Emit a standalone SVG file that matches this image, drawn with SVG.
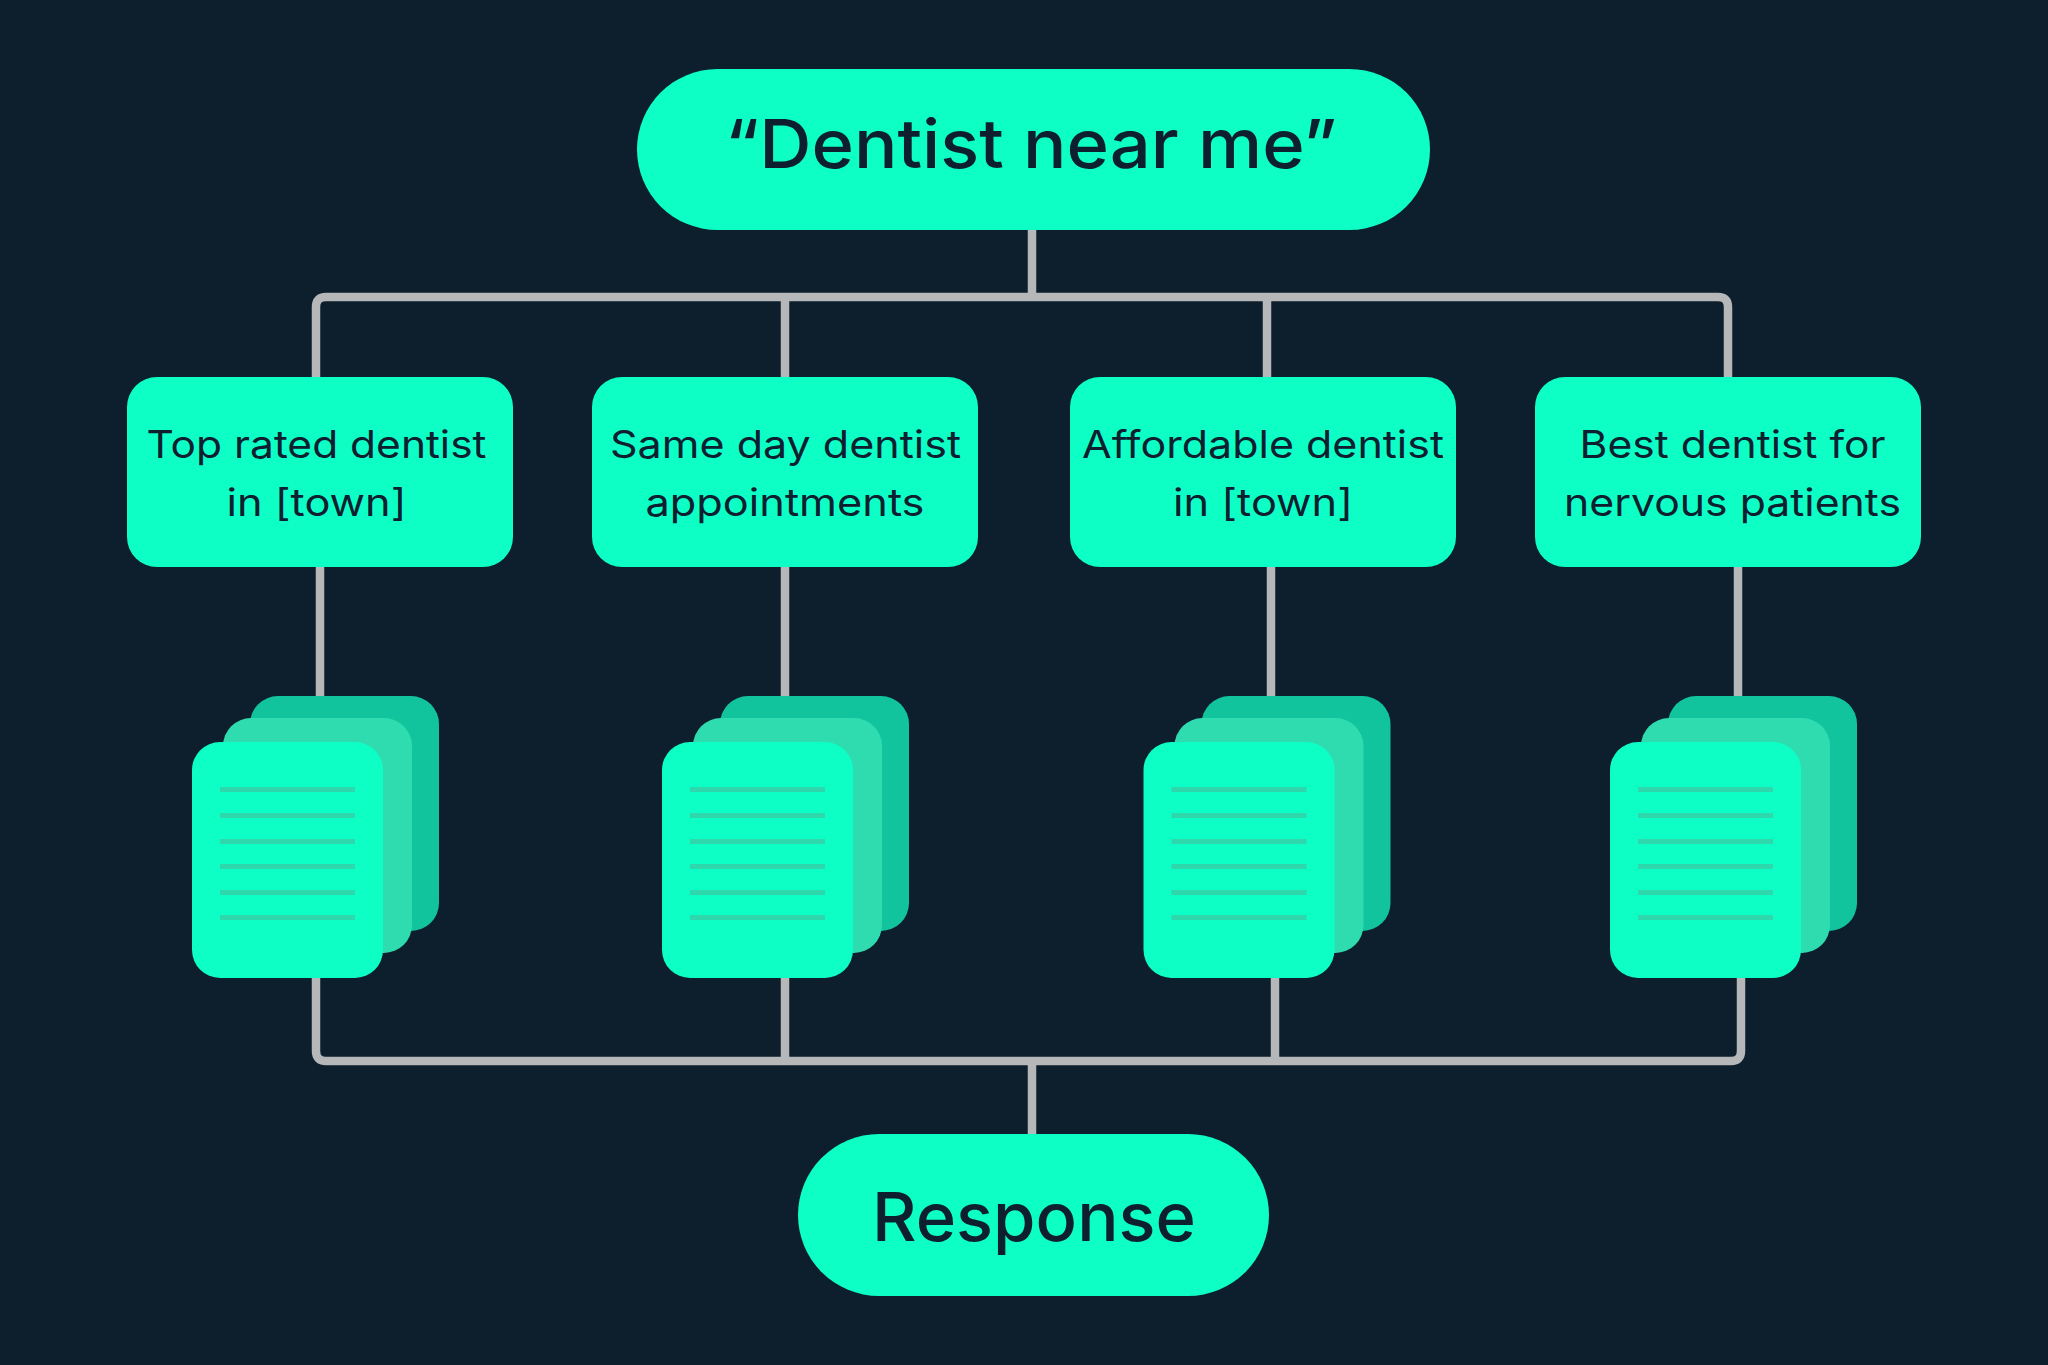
<svg xmlns="http://www.w3.org/2000/svg" width="2048" height="1365" viewBox="0 0 2048 1365">
<style>
.n{fill:#0dffc6}
.b{fill:#12c49e}
.m{fill:#2fdcb0}
.l{fill:#2fd8ac}
.c{fill:none;stroke:#b5b7b9;stroke-width:8.5}
text{font-family:"Inter","Liberation Sans",sans-serif;fill:#0e2030;text-anchor:middle}
.s{font-size:38px}
.g{font-size:67px;font-weight:500}
</style>
<defs>
<g id="doc">
<rect class="b" x="58" y="-46" width="189" height="235" rx="28"/>
<rect class="m" x="31" y="-24" width="189" height="235" rx="28"/>
<rect class="n" x="0" y="0" width="191" height="236" rx="28"/>
<rect class="l" x="28" y="45" width="135" height="5"/>
<rect class="l" x="28" y="71" width="135" height="5"/>
<rect class="l" x="28" y="97" width="135" height="5"/>
<rect class="l" x="28" y="122" width="135" height="5"/>
<rect class="l" x="28" y="148" width="135" height="5"/>
<rect class="l" x="28" y="173" width="135" height="5"/>
</g>
</defs>
<rect width="2048" height="1365" fill="#0d1e2d"/>
<g id="connectors">
<path class="c" d="M1032 230V297M316 377V307Q316 297 326 297H1718Q1728 297 1728 307V377M785 297V377M1267 297V377"/>
<path class="c" d="M320 567V696M785 567V696M1271 567V696M1738 567V696"/>
<path class="c" d="M316 978V1051Q316 1061 326 1061H1731Q1741 1061 1741 1051V978M785 978V1061M1275 978V1061M1032 1061V1135"/>
</g>
<g id="query"><rect class="n" x="637" y="69" width="793" height="161" rx="80.5"/><text class="g" x="1031" y="168" textLength="612" lengthAdjust="spacingAndGlyphs">“Dentist near me”</text></g>
<g id="topic1"><rect class="n" x="127" y="377" width="386" height="190" rx="30"/><text class="s" x="316.5" y="458" textLength="340" lengthAdjust="spacingAndGlyphs">Top rated dentist</text><text class="s" x="316.5" y="516" textLength="180" lengthAdjust="spacingAndGlyphs">in [town]</text></g>
<g id="topic2"><rect class="n" x="592" y="377" width="386" height="190" rx="30"/><text class="s" x="785.5" y="458" textLength="351" lengthAdjust="spacingAndGlyphs">Same day dentist</text><text class="s" x="785" y="516" textLength="279" lengthAdjust="spacingAndGlyphs">appointments</text></g>
<g id="topic3"><rect class="n" x="1070" y="377" width="386" height="190" rx="30"/><text class="s" x="1263" y="458" textLength="362" lengthAdjust="spacingAndGlyphs">Affordable dentist</text><text class="s" x="1263" y="516" textLength="180" lengthAdjust="spacingAndGlyphs">in [town]</text></g>
<g id="topic4"><rect class="n" x="1535" y="377" width="386" height="190" rx="30"/><text class="s" x="1732.5" y="458" textLength="306" lengthAdjust="spacingAndGlyphs">Best dentist for</text><text class="s" x="1732.5" y="516" textLength="337" lengthAdjust="spacingAndGlyphs">nervous patients</text></g>
<g id="docs1"><use href="#doc" x="192" y="742"/></g>
<g id="docs2"><use href="#doc" x="662" y="742"/></g>
<g id="docs3"><use href="#doc" x="1143.5" y="742"/></g>
<g id="docs4"><use href="#doc" x="1610" y="742"/></g>
<g id="response"><rect class="n" x="798" y="1134" width="471" height="162" rx="81"/><text class="g" x="1034" y="1241" textLength="324" lengthAdjust="spacingAndGlyphs">Response</text></g>
</svg>
